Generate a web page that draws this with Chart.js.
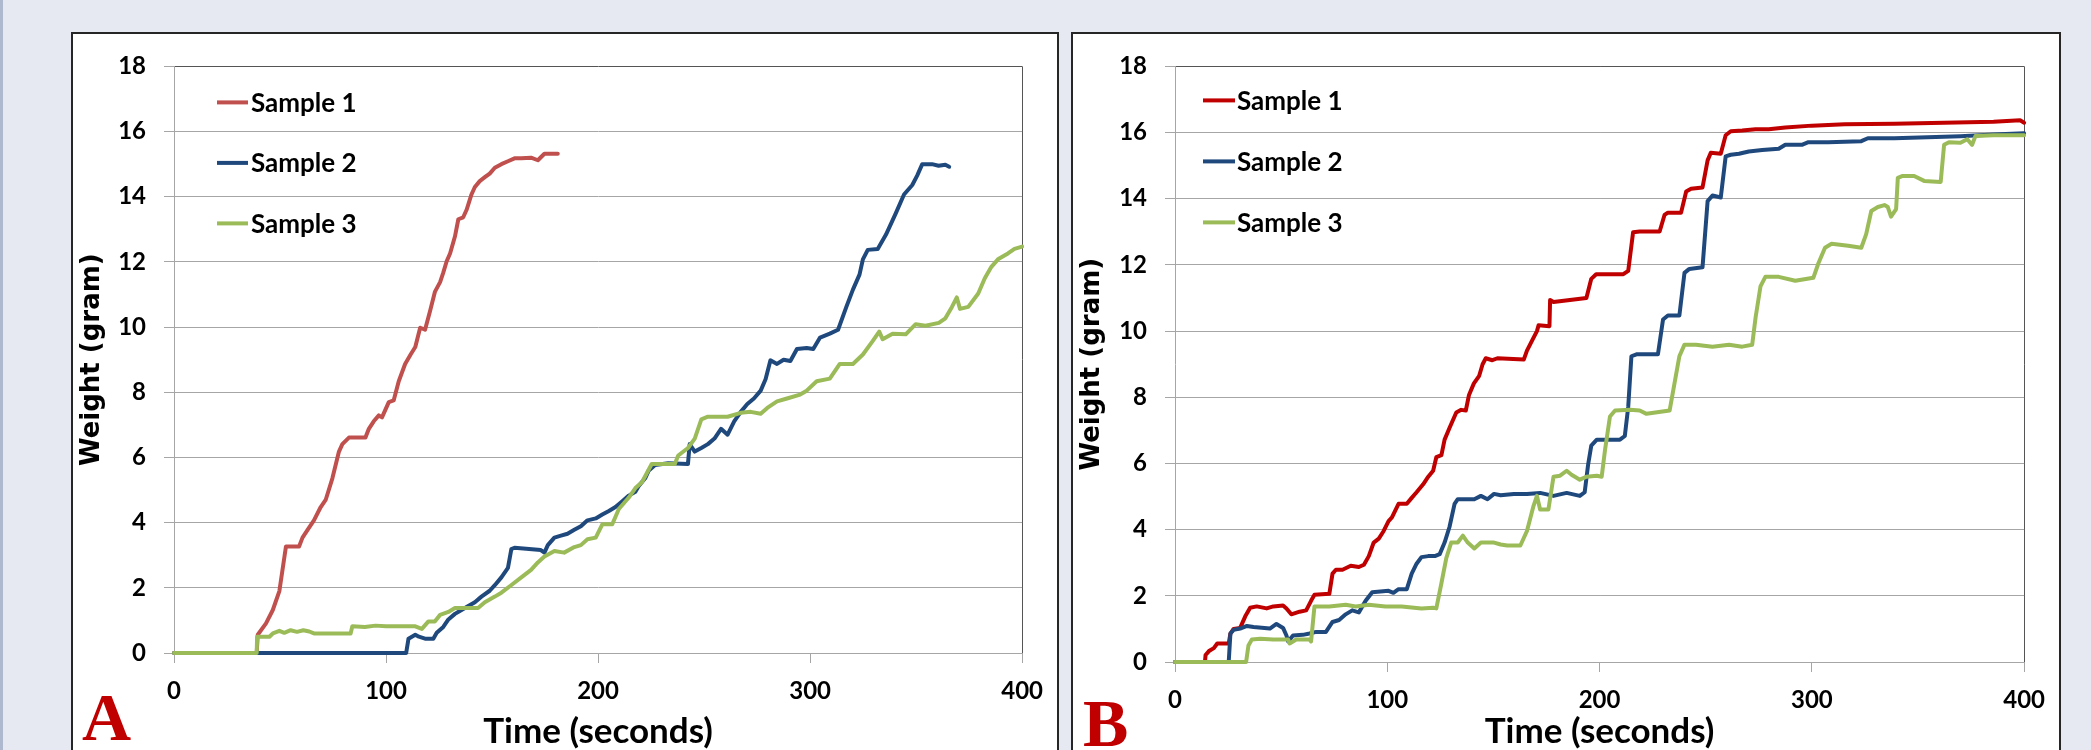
<!DOCTYPE html>
<html>
<head>
<meta charset="utf-8">
<script src="https://cdn.jsdelivr.net/npm/chart.js@4.4.1/dist/chart.umd.min.js"></script>
<style>
  html, body { margin: 0; padding: 0; }
  body { width: 2091px; height: 750px; background: #e6e9f2; position: relative; overflow: hidden; }
  .edge { position: absolute; left: 0; top: 0; width: 3px; height: 750px; background: #aeb8cf; }
  .panel { position: absolute; top: 32px; height: 740px; background: #fff; border: 2px solid #262626; box-sizing: border-box; }
  #panelA { left: 71px; width: 988px; }
  #panelB { left: 1071px; width: 990px; }
  canvas { position: absolute; top: 34px; }
  #chartA { left: 73px; }
  #chartB { left: 1073px; }
  .tag { position: absolute; font-family: "Liberation Serif", "Times New Roman", serif; font-weight: bold;
         font-size: 68px; line-height: 68px; color: #c00000; }
</style>
</head>
<body>
<div class="edge"></div>
<div class="panel" id="panelA"></div>
<div class="panel" id="panelB"></div>
<canvas id="chartA" width="984" height="716"></canvas>
<canvas id="chartB" width="986" height="716"></canvas>
<div class="tag" style="left:82px; top:683px;">A</div>
<div class="tag" style="left:1083px; top:689px;">B</div>

<script>
// series labels
const sampleNames = ['Sample 1', 'Sample 2', 'Sample 3'];

// axis ticks
const timeTicks = [0, 100, 200, 300, 400];
const weightTicks = [0, 2, 4, 6, 8, 10, 12, 14, 16, 18];

// ---- panel A ----
const timeA1 = [0, 39, 39.5, 43.4, 46.6, 49.7, 52.8, 59, 60.6, 63,
  66, 69.2, 71.6, 74.7, 77.8, 79.4, 82.5, 90.3, 91.9, 94.2,
  96.6, 98.1, 101.3, 103.6, 106, 109, 111.6, 113.8, 116.1, 118.4,
  120.8, 123.1, 125.5, 127, 128.6, 130.2, 132.5, 134.1, 136.4, 138,
  140.3, 141.9, 144.2, 146.6, 148.9, 151.3, 154.4, 157.5, 160.6, 163.8,
  168.4, 171.6, 174.7, 181];
const weightA1 = [0, 0, 0.56, 0.91, 1.32, 1.9, 3.27, 3.27, 3.54, 3.78,
  4.07, 4.48, 4.71, 5.36, 6.18, 6.41, 6.61, 6.61, 6.88, 7.11,
  7.29, 7.23, 7.7, 7.75, 8.34, 8.87, 9.16, 9.39, 9.98, 9.92,
  10.5, 11.09, 11.38, 11.67, 12.02, 12.26, 12.78, 13.31, 13.37, 13.6,
  14.07, 14.3, 14.48, 14.6, 14.71, 14.89, 15.0, 15.09, 15.18, 15.18,
  15.2, 15.12, 15.32, 15.32];

const timeA2 = [0, 109.5, 110.6, 113.8, 115.5, 118.4, 122.3, 123.9, 127, 129.4,
  132.5, 134.8, 138.8, 141.9, 145, 148.9, 151.3, 154.4, 157.5, 159.1,
  160.6, 173, 174.7, 176.3, 179.4, 182.5, 185.6, 188.8, 191.9, 195,
  198.9, 202, 205.1, 208.2, 211.3, 214.5, 217.6, 219.1, 222.2, 223.8,
  226.9, 233.1, 242.4, 243.2, 245.6, 248.7, 251.8, 254.9, 258, 261.1,
  264.2, 267.3, 270.4, 273.5, 276.7, 279, 281.3, 284.4, 287.5, 290.7,
  293.8, 298.4, 301.5, 304.7, 309.3, 313.2, 317.1, 320.2, 323.3, 324.9,
  327.2, 331.9, 335.8, 340.4, 344.3, 348.2, 350.5, 352.9, 357.5, 360.6,
  363.8, 365.6];
const weightA2 = [0, 0, 0.44, 0.56, 0.5, 0.44, 0.44, 0.62, 0.8, 1.03,
  1.2, 1.29, 1.44, 1.56, 1.73, 1.91, 2.08, 2.32, 2.61, 3.19,
  3.23, 3.16, 3.08, 3.31, 3.54, 3.6, 3.66, 3.78, 3.89, 4.07,
  4.13, 4.25, 4.36, 4.48, 4.65, 4.83, 4.95, 5.12, 5.36, 5.59,
  5.77, 5.82, 5.8, 6.41, 6.18, 6.29, 6.41, 6.58, 6.88, 6.7,
  7.11, 7.4, 7.64, 7.81, 8.05, 8.4, 8.98, 8.87, 9.0, 8.96,
  9.33, 9.36, 9.33, 9.68, 9.8, 9.92, 10.62, 11.15, 11.61, 12.08,
  12.37, 12.4, 12.84, 13.49, 14.07, 14.36, 14.65, 15.0, 15.0, 14.95,
  14.98, 14.92];

const timeA3 = [0, 39, 39.2, 45, 46.6, 49.7, 52, 55, 58, 61,
  63.8, 66, 71.6, 77.8, 83.3, 84.1, 90, 95, 100, 107.5,
  113.8, 116.9, 120, 123, 125.5, 129.4, 132.5, 143.4, 146.6, 151.3,
  154.4, 159, 163.8, 168.4, 171.6, 174.7, 179.4, 184, 188.8, 191.9,
  195, 198.9, 202, 206.7, 209.8, 214.5, 217.6, 220.7, 225.3, 236.2,
  237.8, 242.4, 245.6, 248.7, 251.8, 261.1, 267.3, 272, 276.7, 279.8,
  284.4, 289.1, 295.3, 298.4, 303.1, 309.3, 314, 320.2, 324.9, 329.5,
  332.6, 334.2, 338.9, 345.1, 349.8, 354.4, 360.7, 363.8, 366.9, 369.2,
  370.7, 374.6, 379.3, 382.4, 385.5, 388.6, 393.3, 396.4, 400];
const weightA3 = [0, 0, 0.5, 0.5, 0.6, 0.68, 0.62, 0.7, 0.65, 0.7,
  0.66, 0.6, 0.6, 0.6, 0.6, 0.82, 0.8, 0.84, 0.82, 0.82,
  0.82, 0.74, 0.97, 0.97, 1.17, 1.26, 1.38, 1.38, 1.56, 1.73,
  1.85, 2.08, 2.32, 2.55, 2.78, 2.96, 3.13, 3.08, 3.25, 3.31,
  3.49, 3.54, 3.95, 3.95, 4.42, 4.77, 5.06, 5.24, 5.8, 5.8,
  6.06, 6.29, 6.58, 7.17, 7.25, 7.25, 7.37, 7.4, 7.34, 7.52,
  7.72, 7.81, 7.93, 8.05, 8.34, 8.42, 8.87, 8.87, 9.16, 9.57,
  9.86, 9.63, 9.8, 9.78, 10.09, 10.04, 10.13, 10.27, 10.62, 10.91,
  10.56, 10.62, 11.03, 11.5, 11.85, 12.08, 12.26, 12.4, 12.47];

// ---- panel B ----
const timeB1 = [0, 14.1, 14.4, 16, 18.3, 19.9, 25.3, 26.1, 27.6, 30.7,
  33.1, 35.4, 38.5, 43.2, 46.3, 50.9, 52.5, 54.8, 58.7, 61.8,
  64.1, 65.7, 72.7, 74.2, 75.8, 78.9, 82.8, 86.6, 89, 91.3,
  93.6, 96, 98.3, 100.6, 102.2, 105.3, 109.2, 111.5, 113.8, 116.9,
  119.3, 121.6, 123.1, 125.5, 127, 129.3, 132.5, 134.8, 137, 138.5,
  140.8, 143.3, 144.9, 146.4, 149.5, 151.9, 164.3, 165.8, 168.2, 170.5,
  171.3, 176.4, 176.7, 178.3, 193.8, 196.1, 198.4, 211.2, 213.5, 215.8,
  218.9, 228.3, 230.6, 232.2, 238.4, 240.8, 243.1, 248.5, 250.9, 252.4,
  257.1, 259.4, 261.8, 267.2, 273.5, 279.7, 287.5, 300, 315.5, 338.9,
  362.3, 385.6, 398.1, 400];
const weightB1 = [0, 0, 0.21, 0.33, 0.42, 0.56, 0.56, 0.86, 1.0, 1.03,
  1.38, 1.64, 1.68, 1.62, 1.68, 1.71, 1.62, 1.44, 1.52, 1.56,
  1.85, 2.03, 2.06, 2.67, 2.79, 2.79, 2.91, 2.87, 2.94, 3.2,
  3.61, 3.73, 3.96, 4.26, 4.37, 4.78, 4.78, 4.96, 5.13, 5.37,
  5.6, 5.78, 6.19, 6.25, 6.72, 7.07, 7.54, 7.62, 7.6, 8.07,
  8.42, 8.65, 9.0, 9.18, 9.12, 9.18, 9.14, 9.41, 9.71, 10.0,
  10.18, 10.15, 10.94, 10.88, 11.0, 11.58, 11.72, 11.72, 11.82, 12.99,
  13.01, 13.01, 13.51, 13.58, 13.58, 14.22, 14.3, 14.34, 15.16, 15.39,
  15.36, 15.92, 16.04, 16.06, 16.1, 16.1, 16.15, 16.21, 16.25, 16.27,
  16.3, 16.33, 16.37, 16.3];

const timeB2 = [0, 25.3, 26.1, 27.6, 30.7, 33.9, 37, 44.7, 47.8, 50.9,
  52.5, 53.3, 55.6, 60.2, 63.4, 66.5, 71.1, 74.2, 77.3, 80.4,
  83.5, 86.6, 89.8, 92.9, 100.6, 102.9, 105.3, 109.2, 111.5, 113.8,
  116.1, 119.3, 122.4, 124.7, 127, 129.3, 131.7, 133.2, 141, 144.1,
  147.2, 150.3, 153.4, 159.6, 165.8, 172, 178.3, 184.5, 190.7, 193,
  194.6, 196.1, 198.7, 209.6, 211.9, 213.5, 215, 217.4, 227.5, 229.9,
  232.2, 237.6, 240, 242.3, 248.5, 250.9, 253.2, 257.1, 259.4, 261.8,
  265.7, 270.3, 276.6, 284.4, 287.5, 295.3, 298.4, 307.7, 323.3, 326.4,
  338.9, 354.5, 370, 385.6, 400];
const weightB2 = [0, 0, 0.86, 0.97, 1.01, 1.09, 1.06, 1.01, 1.15, 1.03,
  0.8, 0.62, 0.8, 0.82, 0.86, 0.91, 0.91, 1.21, 1.27, 1.44,
  1.56, 1.5, 1.85, 2.11, 2.15, 2.09, 2.2, 2.2, 2.67, 2.97,
  3.17, 3.2, 3.2, 3.26, 3.61, 4.08, 4.78, 4.92, 4.92, 5.02,
  4.92, 5.08, 5.04, 5.08, 5.08, 5.11, 5.02, 5.11, 5.02, 5.13,
  5.96, 6.54, 6.72, 6.72, 6.83, 7.71, 9.24, 9.3, 9.3, 10.35,
  10.47, 10.47, 11.76, 11.88, 11.93, 13.93, 14.1, 14.04, 15.28, 15.33,
  15.36, 15.43, 15.47, 15.51, 15.63, 15.63, 15.71, 15.71, 15.74, 15.83,
  15.83, 15.86, 15.89, 15.94, 15.98];

const timeB3 = [0, 33.5, 34.6, 36.2, 40.1, 46.3, 53.3, 54, 57.1, 63.4,
  64.1, 65.7, 72.7, 80.4, 85.1, 91.3, 99.1, 106.8, 116.1, 121.6,
  123.1, 125.5, 127.8, 130.1, 133.2, 135.6, 137.9, 141, 144.1, 150.3,
  153.4, 156.5, 162.7, 165.8, 168.9, 170.5, 172, 175.9, 178.3, 181.4,
  184.5, 186.8, 190.7, 193.8, 198.7, 201, 202.6, 204.9, 207.3, 214.3,
  218.9, 222.1, 233, 235.3, 237.6, 240, 245.4, 253.2, 261, 267.2,
  271.9, 273.5, 275.8, 278.1, 284.4, 292.2, 300.7, 303.1, 306.2, 309.3,
  317.1, 323.3, 325.6, 328, 331.1, 334.2, 335.8, 337.3, 339.7, 340.5,
  342.8, 348.2, 352.9, 360.7, 362.3, 364.6, 370, 373.2, 375.5, 377.1,
  385.6, 400];
const weightB3 = [0, 0, 0.5, 0.68, 0.7, 0.68, 0.68, 0.56, 0.68, 0.68,
  0.62, 1.68, 1.68, 1.73, 1.68, 1.73, 1.68, 1.68, 1.62, 1.64,
  1.62, 2.38, 3.14, 3.61, 3.61, 3.82, 3.61, 3.43, 3.61, 3.61,
  3.55, 3.52, 3.52, 3.96, 4.72, 5.02, 4.61, 4.61, 5.6, 5.63,
  5.78, 5.66, 5.51, 5.6, 5.63, 5.6, 6.42, 7.42, 7.6, 7.62,
  7.6, 7.5, 7.6, 8.42, 9.24, 9.59, 9.59, 9.53, 9.59, 9.53,
  9.59, 10.41, 11.35, 11.64, 11.64, 11.52, 11.61, 12.05, 12.52, 12.64,
  12.58, 12.52, 12.93, 13.63, 13.75, 13.81, 13.75, 13.46, 13.69, 14.63,
  14.69, 14.69, 14.54, 14.51, 15.63, 15.71, 15.69, 15.8, 15.63, 15.9,
  15.92, 15.92];

const colorsA = ['#c0504d', '#1f497d', '#9bbb59'];
const colorsB = ['#c00000', '#1f497d', '#9bbb59'];

const toPoints = (times, weights) => times.map((t, i) => ({ x: t, y: weights[i] }));

// legend drawn inside the plot area, top-left
const insideLegend = {
  id: 'insideLegend',
  afterDraw(chart, args, opts) {
    const { ctx, chartArea } = chart;
    ctx.save();
    ctx.font = 'bold 26px Lato';
    ctx.textBaseline = 'middle';
    ctx.textAlign = 'left';
    ctx.fillStyle = '#000';
    chart.data.datasets.forEach((ds, i) => {
      const y = chartArea.top + opts.top + i * opts.gap;
      ctx.strokeStyle = ds.borderColor;
      ctx.lineWidth = 4;
      ctx.beginPath();
      ctx.moveTo(chartArea.left + opts.lineStart, y);
      ctx.lineTo(chartArea.left + opts.lineEnd, y);
      ctx.stroke();
      ctx.fillText(ds.label, chartArea.left + opts.textStart, y + 1);
    });
    ctx.restore();
  }
};

function makeChart(id, series, colors, box) {
  const datasets = series.map((s, i) => ({
    label: sampleNames[i],
    data: toPoints(s[0], s[1]),
    borderColor: colors[i],
    backgroundColor: colors[i],
    borderWidth: 4,
    pointRadius: 0,
    tension: 0,
    borderJoinStyle: 'round',
    borderCapStyle: 'round',
    clip: 6,
    order: 3 - i
  }));

  return new Chart(document.getElementById(id), {
    type: 'line',
    data: { datasets: datasets },
    options: {
      responsive: false,
      animation: false,
      layout: { padding: { top: box.top, right: box.right, left: 0, bottom: 0 } },
      plugins: {
        legend: { display: false },
        tooltip: { enabled: false },
        insideLegend: box.legend
      },
      scales: {
        x: {
          type: 'linear',
          min: timeTicks[0],
          max: timeTicks[timeTicks.length - 1],
          afterBuildTicks: (scale) => { scale.ticks = timeTicks.map(v => ({ value: v })); },
          afterFit: (scale) => { scale.height = box.xHeight; },
          grid: {
            drawOnChartArea: true,
            color: (c) => (c.tick && c.tick.value === 400) ? '#555555' : 'rgba(0,0,0,0)',
            tickColor: '#a6a6a6',
            tickLength: 10,
            lineWidth: 1
          },
          border: { color: '#a6a6a6', width: 1 },
          ticks: {
            color: '#000',
            padding: 14,
            maxRotation: 0,
            font: { family: 'Lato', size: 24, weight: 'bold' }
          },
          title: {
            display: true,
            text: 'Time (seconds)',
            color: '#000',
            padding: { top: 0, bottom: 1 },
            font: { family: 'Lato', size: 35, weight: 'bold', lineHeight: 1 }
          }
        },
        y: {
          min: weightTicks[0],
          max: weightTicks[weightTicks.length - 1],
          afterBuildTicks: (scale) => { scale.ticks = weightTicks.map(v => ({ value: v })); },
          afterFit: (scale) => { scale.width = box.yWidth; },
          grid: {
            color: (c) => (c.tick && c.tick.value === 18) ? '#555555' : '#a6a6a6',
            tickColor: '#a6a6a6',
            tickLength: 10,
            lineWidth: 1
          },
          border: { color: '#a6a6a6', width: 1 },
          ticks: {
            color: '#000',
            padding: 18,
            font: { family: 'Lato', size: 24, weight: 'bold' }
          },
          title: {
            display: true,
            text: 'Weight (gram)',
            color: '#000',
            padding: { top: 4, bottom: 0 },
            font: { family: 'DejaVu Sans', size: 26, weight: 'bold' }
          }
        }
      }
    },
    plugins: [insideLegend]
  });
}

makeChart('chartA',
  [[timeA1, weightA1], [timeA2, weightA2], [timeA3, weightA3]],
  colorsA,
  { top: 28, right: 26, yWidth: 101, xHeight: 97,
    legend: { top: 36, gap: 60.5, lineStart: 43, lineEnd: 74, textStart: 77 } });

makeChart('chartB',
  [[timeB1, weightB1], [timeB2, weightB2], [timeB3, weightB3]],
  colorsB,
  { top: 30, right: 28, yWidth: 102, xHeight: 88,
    legend: { top: 34, gap: 61, lineStart: 28, lineEnd: 60, textStart: 62 } });
</script>
</body>
</html>
